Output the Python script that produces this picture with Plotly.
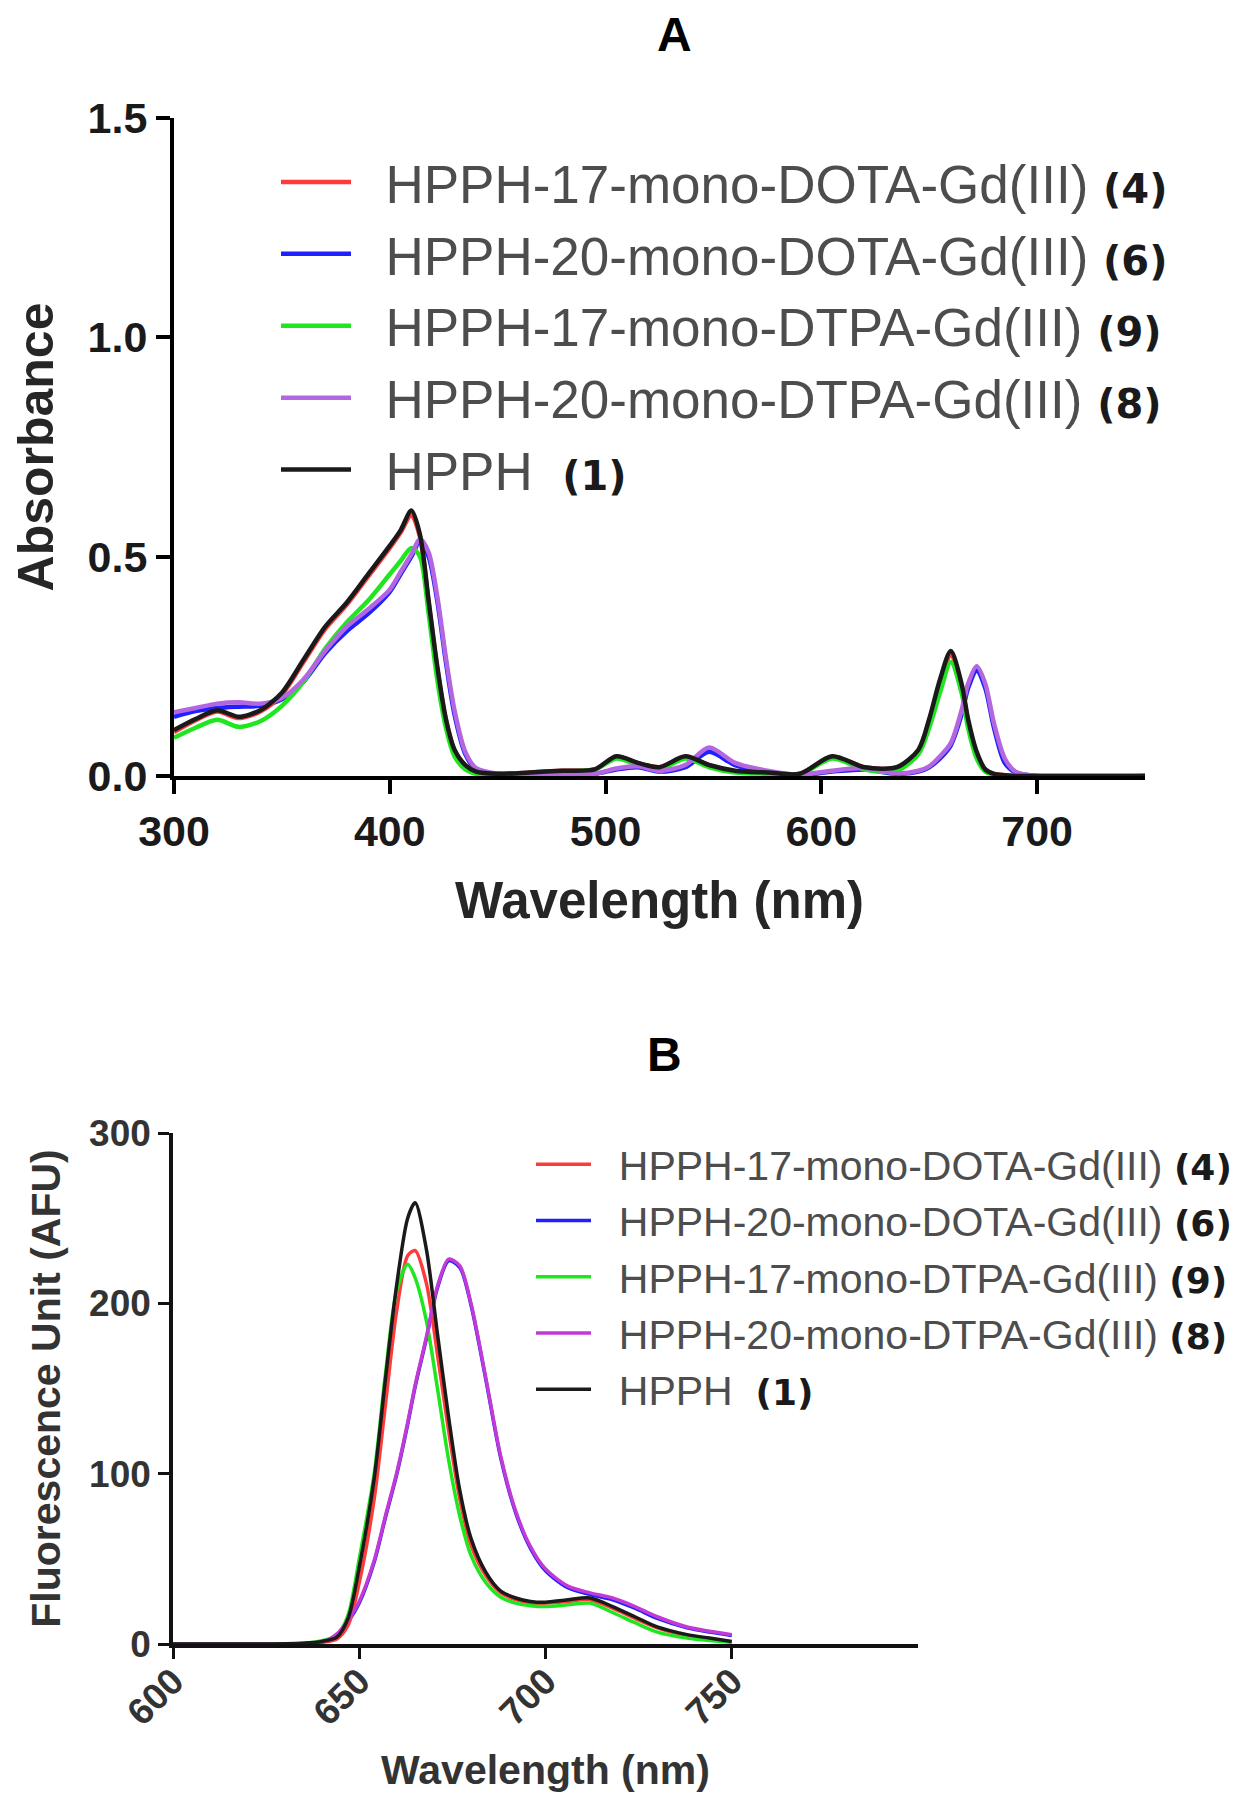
import plotly.graph_objects as go

# ---------------- Panel A : absorbance ----------------
wl_a = [300, 310, 320, 330, 340, 350, 360, 370, 380, 390,
        400, 405, 410, 414, 418, 422, 426, 430, 435, 440,
        450, 465, 480, 495, 505, 515, 525, 537, 548, 560,
        575, 590, 605, 620, 635, 645, 650, 655, 660, 665,
        668, 672, 676, 680, 685, 690, 700, 750]

abs_hpph = [0.105, 0.13, 0.15, 0.135, 0.15, 0.19, 0.265, 0.34, 0.395, 0.46,
            0.525, 0.56, 0.605, 0.55, 0.40, 0.25, 0.13, 0.06, 0.025, 0.01,
            0.005, 0.008, 0.012, 0.015, 0.045, 0.03, 0.02, 0.045, 0.025, 0.012,
            0.008, 0.005, 0.045, 0.02, 0.02, 0.06, 0.13, 0.22, 0.285, 0.21,
            0.13, 0.055, 0.015, 0.005, 0.002, 0.0, 0.0, 0.0]
abs_17_dota = [0.10, 0.127, 0.147, 0.132, 0.147, 0.186, 0.26, 0.335, 0.39, 0.455,
               0.52, 0.555, 0.595, 0.545, 0.395, 0.245, 0.128, 0.058, 0.024, 0.01,
               0.005, 0.008, 0.012, 0.015, 0.044, 0.029, 0.02, 0.044, 0.024, 0.011,
               0.007, 0.005, 0.044, 0.02, 0.019, 0.058, 0.125, 0.212, 0.275, 0.203,
               0.125, 0.052, 0.014, 0.005, 0.002, 0.0, 0.0, 0.0]
abs_20_dota = [0.135, 0.148, 0.155, 0.158, 0.16, 0.175, 0.215, 0.28, 0.33, 0.37,
               0.42, 0.46, 0.50, 0.535, 0.50, 0.40, 0.26, 0.14, 0.05, 0.015,
               0.003, 0.0, 0.003, 0.005, 0.015, 0.02, 0.01, 0.02, 0.055, 0.025,
               0.01, 0.002, 0.01, 0.015, 0.005, 0.01, 0.02, 0.04, 0.07, 0.14,
               0.20, 0.24, 0.20, 0.11, 0.03, 0.008, 0.0, 0.0]
abs_17_dtpa = [0.087, 0.11, 0.128, 0.112, 0.125, 0.16, 0.215, 0.29, 0.35, 0.40,
               0.46, 0.49, 0.52, 0.50, 0.37, 0.22, 0.11, 0.045, 0.015, 0.005,
               0.0, 0.005, 0.01, 0.015, 0.04, 0.025, 0.015, 0.04, 0.02, 0.008,
               0.005, 0.003, 0.04, 0.015, 0.012, 0.05, 0.11, 0.19, 0.26, 0.19,
               0.11, 0.04, 0.01, 0.003, 0.0, 0.0, 0.0, 0.0]
abs_20_dtpa = [0.145, 0.155, 0.165, 0.168, 0.165, 0.178, 0.22, 0.285, 0.34, 0.38,
               0.425, 0.465, 0.505, 0.54, 0.51, 0.41, 0.27, 0.15, 0.055, 0.018,
               0.005, 0.0, 0.003, 0.005, 0.017, 0.022, 0.012, 0.025, 0.065, 0.03,
               0.012, 0.003, 0.012, 0.018, 0.006, 0.012, 0.022, 0.045, 0.075, 0.15,
               0.21, 0.25, 0.21, 0.12, 0.04, 0.01, 0.0, 0.0]

# ---------------- Panel B : fluorescence ----------------
wl_b = [600, 620, 635, 640, 644, 647, 650, 654, 657, 660,
        663, 665, 668, 671, 674, 677, 680, 684, 688, 692,
        696, 700, 706, 712, 718, 724, 730, 738, 744, 750]

fl_hpph = [0, 0, 0.5, 1.5, 4, 15, 45, 97, 155, 210,
           250, 259, 232, 182, 133, 90, 62, 42, 31, 27,
           25, 24.5, 26, 27, 22, 16, 10, 5.5, 3.5, 1.5]
fl_17_dota = [0, 0, 0.3, 1, 3, 11, 36, 85, 140, 195,
              228, 231, 212, 170, 125, 85, 58, 40, 30, 26,
              24, 24, 25, 26, 21, 15, 9.5, 5, 3, 1.2]
fl_20_dota = [0, 0, 0, 1, 5, 13, 24, 48, 74, 99,
              129, 151, 179, 209, 225, 221, 199, 155, 109, 77,
              56, 43, 33, 29, 26, 21, 15, 9.5, 7, 5]
fl_17_dtpa = [0, 0, 0.5, 2, 5, 17, 50, 100, 158, 207,
              223, 215, 190, 150, 108, 75, 52, 36, 27.5, 24,
              22.5, 22, 23, 24, 18.5, 12.5, 7, 3.5, 2, 1]
fl_20_dtpa = [0, 0, 0, 1, 6, 14, 25, 49, 75, 100,
              130, 152, 180, 210, 226, 222, 200, 156, 110, 78,
              57, 44, 34, 30, 27, 22, 16, 10, 7.5, 5.5]

names = ["HPPH-17-mono-DOTA-Gd(III)", "HPPH-20-mono-DOTA-Gd(III)",
         "HPPH-17-mono-DTPA-Gd(III)", "HPPH-20-mono-DTPA-Gd(III)", "HPPH"]
numbers = ["(4)", "(6)", "(9)", "(8)", "(1)"]

y_ticks_a = [0, 0.5, 1.0, 1.5]
x_ticks_a = [300, 400, 500, 600, 700]
y_ticks_b = [0, 100, 200, 300]
x_ticks_b = [600, 650, 700, 750]

colors_a = ["#ff3a3a", "#1f1fff", "#1fe61f", "#b366e0", "#1a1a1a"]
colors_b = ["#ff3a3a", "#1f1fff", "#1fe61f", "#c23ad6", "#1a1a1a"]

series_a = [abs_17_dota, abs_20_dota, abs_17_dtpa, abs_20_dtpa, abs_hpph]
series_b = [fl_17_dota, fl_20_dota, fl_17_dtpa, fl_20_dtpa, fl_hpph]

draw_order = [1, 0, 2, 3, 4]  # blue under red, purple over, black on top

FONT = "Liberation Sans, Arial, sans-serif"

W, H = 1254, 1800
OFF = 8  # the page body margin shifts the figure by 8 px


def px(x):
    return (x - OFF) / W


def py(y):
    return 1 - (y - OFF) / H


def label(i, size):
    gap = "&nbsp;&nbsp;" if i == 4 else " "
    return (f'&nbsp;&nbsp;{names[i]}{gap}<span style="font-family:DejaVu Sans;font-size:{size}px;'
            f'color:#1a1a1a"><b>{numbers[i]}</b></span>')


fig = go.Figure()

for i in draw_order:
    fig.add_trace(go.Scatter(
        x=wl_a, y=series_a[i], mode="lines", name=label(i, 40),
        line=dict(color=colors_a[i], width=4.5, shape="spline", smoothing=0.8),
        xaxis="x", yaxis="y", legend="legend", legendrank=i + 1,
        legendgroup=f"a{i}"))

for i in draw_order:
    fig.add_trace(go.Scatter(
        x=wl_b, y=series_b[i], mode="lines", name=label(i, 36),
        line=dict(color=colors_b[i], width=3.5, shape="spline", smoothing=0.8),
        xaxis="x2", yaxis="y2", legend="legend2", legendrank=i + 1,
        legendgroup=f"b{i}"))

fig.update_layout(
    width=W, height=H,
    margin=dict(l=0, r=0, t=0, b=0, autoexpand=False),
    paper_bgcolor="white", plot_bgcolor="white",
    font=dict(family=FONT, color="#1a1a1a"),
    xaxis=dict(
        domain=[px(174), px(1145)], range=[300, 750], tickvals=x_ticks_a,
        showline=True, linecolor="black", linewidth=4, showgrid=False, zeroline=False,
        ticks="outside", ticklen=14, tickwidth=4, tickcolor="black",
        tickfont=dict(family=FONT, size=43, color="#1a1a1a", weight="bold"),
        title=dict(text="Wavelength (nm)", standoff=30,
                   font=dict(family=FONT, size=51, color="#262626", weight="bold")),
        anchor="y"),
    yaxis=dict(
        domain=[py(776), py(118)], range=[0, 1.5], tickvals=y_ticks_a,
        tickformat=".1f",
        showline=True, linecolor="black", linewidth=4, showgrid=False, zeroline=False,
        ticks="outside", ticklen=14, tickwidth=4, tickcolor="black",
        tickfont=dict(family=FONT, size=43, color="#1a1a1a", weight="bold"),
        title=dict(text="Absorbance", standoff=31,
                   font=dict(family=FONT, size=50, color="#262626", weight="bold")),
        anchor="x"),
    xaxis2=dict(
        domain=[px(173), px(918)], range=[600, 800], tickvals=x_ticks_b,
        tickangle=-45, ticklabelstandoff=-14,
        showline=True, linecolor="#111", linewidth=3.5, showgrid=False, zeroline=False,
        ticks="outside", ticklen=11, tickwidth=3, tickcolor="#111",
        tickfont=dict(family=FONT, size=37, color="#333333", weight="bold"),
        title=dict(text="Wavelength (nm)", standoff=24,
                   font=dict(family=FONT, size=41, color="#333333", weight="bold")),
        anchor="y2"),
    yaxis2=dict(
        domain=[py(1644), py(1133)], range=[0, 300], tickvals=y_ticks_b,
        showline=True, linecolor="#111", linewidth=3.5, showgrid=False, zeroline=False,
        ticks="outside", ticklen=11, tickwidth=3, tickcolor="#111",
        tickfont=dict(family=FONT, size=37, color="#333333", weight="bold"),
        title=dict(text="Fluorescence Unit (AFU)", standoff=17,
                   font=dict(family=FONT, size=41, color="#333333", weight="bold")),
        anchor="x2"),
    legend=dict(
        x=px(276), xanchor="left", y=py(141), yanchor="top",
        bgcolor="rgba(0,0,0,0)", borderwidth=0, itemwidth=70,
        font=dict(family=FONT, size=53, color="#4d4d4d"),
        traceorder="normal", tracegroupgap=0),
    legend2=dict(
        x=px(531), xanchor="left", y=py(1131), yanchor="top",
        bgcolor="rgba(0,0,0,0)", borderwidth=0, itemwidth=55,
        font=dict(family=FONT, size=41, color="#4d4d4d"),
        traceorder="normal", tracegroupgap=0),
    annotations=[
        dict(text="<b>A</b>", x=px(674), y=py(34), xref="paper", yref="paper",
             showarrow=False, xanchor="center", yanchor="middle",
             font=dict(family=FONT, size=48, color="black")),
        dict(text="<b>B</b>", x=px(664), y=py(1054), xref="paper", yref="paper",
             showarrow=False, xanchor="center", yanchor="middle",
             font=dict(family=FONT, size=48, color="black")),
    ],
)

fig.write_html("out.html")
